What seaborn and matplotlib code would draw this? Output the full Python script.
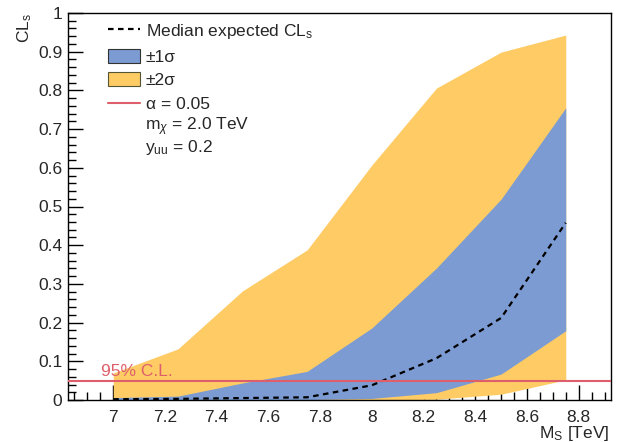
import matplotlib
matplotlib.use("Agg")
import matplotlib.pyplot as plt
import seaborn as sns
import pandas as pd
from matplotlib.lines import Line2D
from matplotlib.patches import Patch
from matplotlib.ticker import MultipleLocator

# ---- data ----
mass = [7.0, 7.25, 7.5, 7.75, 8.0, 8.25, 8.5, 8.75]
median_cls = [0.002, 0.003, 0.005, 0.007, 0.038, 0.108, 0.212, 0.458]
up1 = [0.006, 0.010, 0.044, 0.074, 0.186, 0.341, 0.519, 0.755]
lo1 = [0.000, 0.000, 0.000, 0.001, 0.004, 0.019, 0.067, 0.179]
up2 = [0.070, 0.132, 0.282, 0.388, 0.607, 0.806, 0.899, 0.943]
lo2 = [0.000, 0.000, 0.000, 0.000, 0.000, 0.002, 0.015, 0.052]
alpha_level = 0.05
legend_labels = [r"Median expected CL$_{\mathrm{s}}$", "\u00b11\u03c3", "\u00b12\u03c3",
                 "\u03b1 = 0.05"]
extra_labels = [r"m$_{\chi}$ = 2.0 TeV", r"y$_{\mathrm{uu}}$ = 0.2"]

df = pd.DataFrame({"mass": mass, "median": median_cls})

sns.set_style("ticks")
plt.rcParams["font.family"] = ["Liberation Sans", "DejaVu Sans"]
plt.rcParams["mathtext.fontset"] = "custom"
plt.rcParams["mathtext.rm"] = "Liberation Sans"
plt.rcParams["mathtext.it"] = "Liberation Sans:italic"
plt.rcParams["mathtext.sf"] = "Liberation Sans"

blue = "#7b9bd2"
yellow = "#fecb65"
red = "#de5f6b"

fig = plt.figure(figsize=(6.18, 4.42), dpi=100)
ax = fig.add_axes([68/618, 1-400/442, (611-68)/618, (400-13)/442])

ax.fill_between(mass, lo2, up2, color=yellow, lw=0, zorder=1)
ax.fill_between(mass, lo1, up1, color=blue, lw=0, zorder=2)
sns.lineplot(data=df, x="mass", y="median", ax=ax, color="black", lw=1.6,
             linestyle=(0, (2.5, 2.0)), zorder=3)
ax.axhline(alpha_level, color=red, lw=1.5, zorder=4)
ax.text(6.953, alpha_level + 0.003, "95% C.L.", color=red, fontsize=12.5,
        ha="left", va="bottom", zorder=5)

ax.set_xlim(6.825, 8.925)
ax.set_ylim(0, 1)
ax.xaxis.set_major_locator(MultipleLocator(0.2))
ax.xaxis.set_minor_locator(MultipleLocator(0.05))
ax.yaxis.set_major_locator(MultipleLocator(0.1))
ax.yaxis.set_minor_locator(MultipleLocator(0.02))
ax.set_xticks([7, 7.2, 7.4, 7.6, 7.8, 8, 8.2, 8.4, 8.6, 8.8])
ax.set_xticklabels(["7", "7.2", "7.4", "7.6", "7.8", "8", "8.2", "8.4", "8.6", "8.8"])
ax.set_yticks([0, 0.1, 0.2, 0.3, 0.4, 0.5, 0.6, 0.7, 0.8, 0.9, 1])
ax.set_yticklabels(["0", "0.1", "0.2", "0.3", "0.4", "0.5", "0.6", "0.7", "0.8", "0.9", "1"])
ax.tick_params(which="both", direction="in", top=False, right=False, color="black", width=1)
ax.tick_params(which="major", length=11, labelsize=12.5)
ax.tick_params(which="minor", length=6)
ax.tick_params(axis="x", which="major", pad=7)
ax.tick_params(axis="y", which="major", pad=4)
for s in ax.spines.values():
    s.set_color("black")
    s.set_linewidth(1.0)

ax.set_xlabel(r"M$_{\mathrm{S}}$ [TeV]", loc="right", fontsize=12.5)
ax.xaxis.set_label_coords(0.997, -0.062)
ax.set_ylabel(r"CL$_{\mathrm{s}}$", loc="top", fontsize=12.5)
ax.yaxis.set_label_coords(-0.0625, 1.0)

handles = [
    Line2D([], [], color="black", lw=1.6, linestyle=(0, (2.5, 2.0))),
    Patch(facecolor=blue, edgecolor="#333333", lw=0.8),
    Patch(facecolor=yellow, edgecolor="#555533", lw=0.8),
    Line2D([], [], color=red, lw=1.5),
]
leg = ax.legend(handles, legend_labels, loc="upper left", bbox_to_anchor=(0.074, 0.977),
                frameon=False, fontsize=12.5, handlelength=1.85, handleheight=0.85,
                handletextpad=0.32, labelspacing=0.45, borderaxespad=0, borderpad=0)

# extra text rows of the legend (no symbol), placed by baseline
for i, lab in enumerate(extra_labels):
    ax.text((145-68)/543, 1 - (130 + 22.3*i - 13)/387, lab, transform=ax.transAxes,
            fontsize=12.5, ha="left", va="baseline")

fig.savefig("out.png", dpi=100)
